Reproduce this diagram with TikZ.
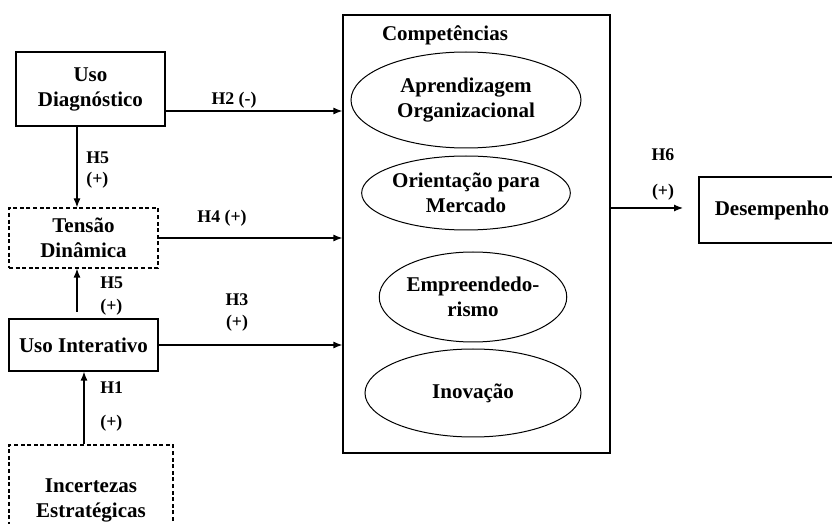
\documentclass[tikz,border=0pt]{standalone}
\usepackage{fontspec}
\setmainfont{Liberation Serif}
\usetikzlibrary{shapes.geometric,arrows.meta}
\begin{document}
\begin{tikzpicture}[x=0.5pt,y=-0.5pt,
  every node/.style={font=\fontsize{10.5}{12.5}\selectfont\bfseries, align=center, inner sep=0pt},
  solidbox/.style={draw, line width=0.6pt, minimum width=#1},
  dashbox/.style={draw, line width=0.6pt, dash pattern=on 2pt off 1.3pt, minimum width=#1},
  comp/.style={draw, ellipse, line width=0.5pt},
  lbl/.style={font=\fontsize{8.9}{10.5}\selectfont\bfseries},
  arr/.style={line width=0.6pt, -{Latex[length=4.5pt,width=3.5pt]}}
]
\clip (0,0) rectangle (832,524);
\fill[white] (0,0) rectangle (832,524);

% left boxes
\node[solidbox=74.5pt, minimum height=37pt] (ud) at (90.5,89) {Uso\\Diagnóstico};
\node[dashbox=74.5pt, minimum height=30pt] (td) at (83.5,238) {Tensão\\Dinâmica};
\node[solidbox=74.5pt, minimum height=26pt] (ui) at (83.5,345) {Uso Interativo};
\node[dashbox=82pt, minimum height=55pt] (inc) at (91,500) {Incertezas\\Estratégicas};

% competencias
\node[draw, line width=0.6pt, minimum width=133.5pt, minimum height=219pt] (cp) at (476.5,234) {};
\node (ct) at (445,35) {Competências};
\node[comp, minimum width=115pt, minimum height=48pt] (e1) at (466,100) {Aprendizagem\\Organizacional};
\node[comp, minimum width=100.5pt, minimum height=37pt] (e2) at (466,193) {Orientação para\\Mercado};
\node[comp, minimum width=93pt, minimum height=45pt] (e3) at (473,297) {Empreendedo-\\rismo};
\node[comp, minimum width=108pt, minimum height=44pt] (e4) at (473,393) {Inovação};

% desempenho
\node[solidbox=73pt, minimum height=33pt] (de) at (772,210) {Desempenho};
\coordinate (h6end) at (683,208);

% connectors
\draw[arr] (ud.east |- 0,111) -- (cp.west |- 0,111);
\draw[arr] (td.east) -- (cp.west |- td.east);
\draw[arr] (ui.east) -- (cp.west |- ui.east);
\draw[arr] (cp.east |- h6end) -- (h6end);
\draw[arr] (ud.south -| 77,0) -- (td.north -| 77,0);
\draw[arr] (77,312) -- (td.south -| 77,0);
\draw[arr] (inc.north -| 84,0) -- (ui.south -| 84,0);

% labels
\node[lbl] (l2) at (234,100) {H2 (-)};
\node[lbl, anchor=west] (l5a) at (86,158) {H5};
\node[lbl, anchor=west] (l5b) at (86,180) {(+)};
\node[lbl] (l4) at (222,218) {H4 (+)};
\node[lbl, anchor=west] (l5c) at (100,283) {H5};
\node[lbl, anchor=west] (l5d) at (100,307) {(+)};
\node[lbl] (l3a) at (237,300) {H3};
\node[lbl] (l3b) at (237,323) {(+)};
\node[lbl, anchor=west] (l1a) at (100,388) {H1};
\node[lbl, anchor=west] (l1b) at (100,423) {(+)};
\node[lbl] (l6a) at (663,155) {H6};
\node[lbl] (l6b) at (663,192) {(+)};
\end{tikzpicture}
\end{document}
